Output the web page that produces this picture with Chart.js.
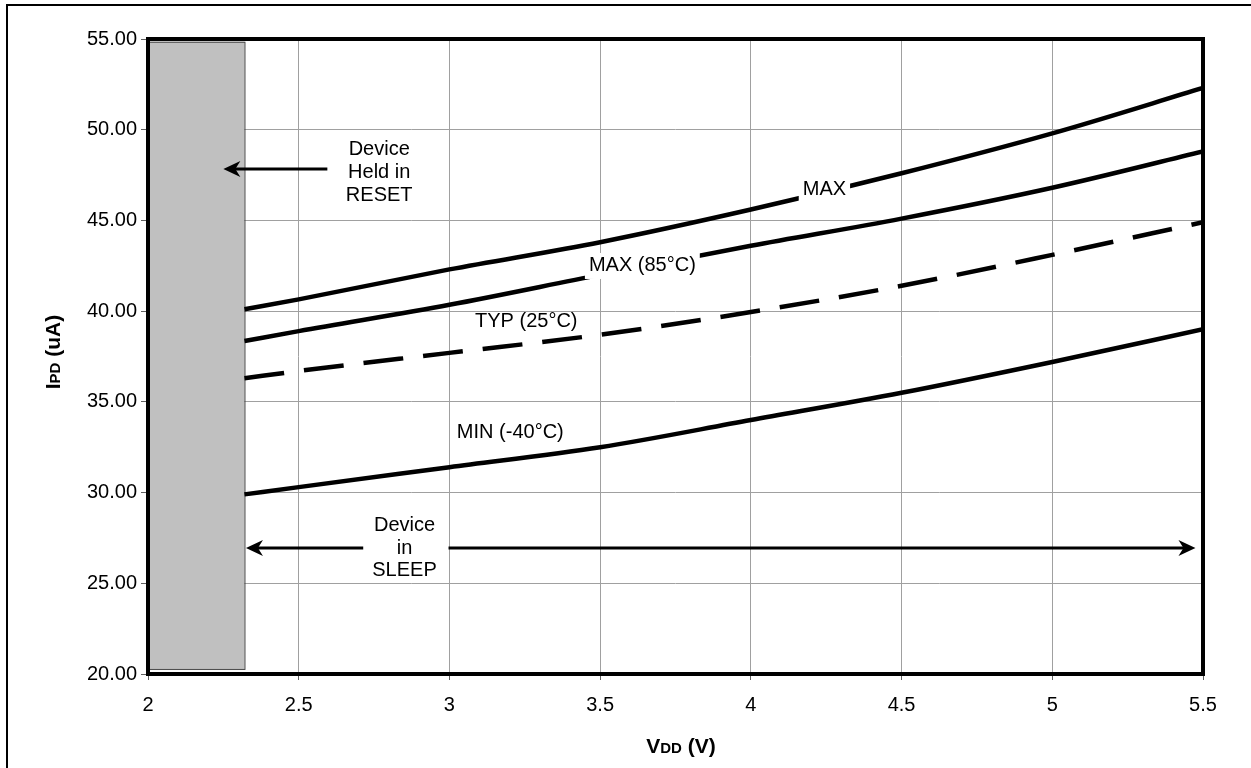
<!DOCTYPE html>
<html>
<head>
<meta charset="utf-8">
<script src="https://cdn.jsdelivr.net/npm/chart.js@4.4.1/dist/chart.umd.min.js"></script>
<style>
  html, body { margin: 0; padding: 0; background: #fff; }
  canvas { display: block; }
</style>
</head>
<body>
<canvas id="c" width="1251" height="768"></canvas>
<script>
// ---- data ----
const vdd     = [2.32, 2.5, 3.0, 3.5, 4.0, 4.5, 5.0, 5.5];
const maxAll  = [40.1, 40.65, 42.3, 43.8, 45.6, 47.6, 49.8, 52.3];
const max85   = [38.35, 38.9, 40.35, 42.0, 43.6, 45.1, 46.8, 48.8];
const typ25   = [36.3, 36.7, 37.7, 38.7, 39.95, 41.4, 43.1, 44.9];
const min40   = [29.9, 30.3, 31.4, 32.5, 34.0, 35.5, 37.2, 39.0];
const seriesNames = ['MAX', 'MAX (85°C)', 'TYP (25°C)', 'MIN (-40°C)'];
const xTickValues = [2, 2.5, 3, 3.5, 4, 4.5, 5, 5.5];
const yTickValues = [20, 25, 30, 35, 40, 45, 50, 55];
const resetVdd = [2.0, 2.32];
const resetI   = [20.28, 54.85];

const FONT = "'Liberation Sans', Arial, sans-serif";

function pts(ys) { return vdd.map((x, i) => ({ x: x, y: ys[i] })); }

// annotation layout (positions in data units)
const curveLabels = [
  { text: seriesNames[0], x: 4.244, y: 46.73, box: true },
  { text: seriesNames[1], x: 3.64,  y: 42.49, box: true },
  { text: seriesNames[2], x: 3.255, y: 39.45, box: false },
  { text: seriesNames[3], x: 3.202, y: 33.33, box: false }
];

function arrowHead(ctx, x, y, dir) {
  ctx.beginPath();
  ctx.moveTo(x, y);
  ctx.lineTo(x - dir * 17, y - 8);
  ctx.lineTo(x - dir * 12, y);
  ctx.lineTo(x - dir * 17, y + 8);
  ctx.closePath();
  ctx.fill();
}

const decor = {
  id: 'decor',
  beforeDatasetsDraw(chart) {
    const { ctx, scales: { x, y } } = chart;
    const x0 = x.getPixelForValue(resetVdd[0]), x1 = x.getPixelForValue(resetVdd[1]);
    const y0 = y.getPixelForValue(resetI[1]), y1 = y.getPixelForValue(resetI[0]);
    ctx.save();
    ctx.fillStyle = '#c0c0c0';
    ctx.fillRect(x0, y0, x1 - x0, y1 - y0);
    ctx.strokeStyle = '#404040';
    ctx.lineWidth = 1;
    ctx.strokeRect(x0 + 0.5, y0 + 0.5, x1 - x0, y1 - y0);
    ctx.restore();
  },
  afterDatasetsDraw(chart) {
    const { ctx, chartArea: a, scales: { x, y } } = chart;
    ctx.save();
    ctx.strokeStyle = '#000';
    ctx.lineWidth = 4;
    ctx.strokeRect(a.left, a.top, a.right - a.left, a.bottom - a.top);

    ctx.lineWidth = 2;
    ctx.strokeRect(7, 5, 1300, 900);

    ctx.fillStyle = '#000';
    ctx.font = '20px ' + FONT;
    ctx.textAlign = 'center';
    ctx.textBaseline = 'middle';

    curveLabels.forEach(l => {
      const px = x.getPixelForValue(l.x), py = y.getPixelForValue(l.y);
      if (l.box) {
        const w = ctx.measureText(l.text).width + 8;
        ctx.fillStyle = '#fff';
        ctx.fillRect(px - w / 2, py - 13, w, 26);
        ctx.fillStyle = '#000';
      }
      ctx.fillText(l.text, px, py);
    });

    const rx = x.getPixelForValue(2.767), ry = y.getPixelForValue(47.67);
    ctx.fillText('Device', rx, ry - 23);
    ctx.fillText('Held in', rx, ry);
    ctx.fillText('RESET', rx, ry + 23);
    const ay = y.getPixelForValue(47.83);
    ctx.lineWidth = 3;
    ctx.beginPath();
    ctx.moveTo(x.getPixelForValue(2.595), ay);
    ctx.lineTo(x.getPixelForValue(2.25) + 10, ay);
    ctx.stroke();
    arrowHead(ctx, x.getPixelForValue(2.25), ay, -1);

    const sx = x.getPixelForValue(2.851), sy = y.getPixelForValue(26.94);
    ctx.fillText('Device', sx, sy - 23);
    ctx.fillText('in', sx, sy);
    ctx.fillText('SLEEP', sx, sy + 22);
    ctx.beginPath();
    ctx.moveTo(x.getPixelForValue(2.325) + 10, sy);
    ctx.lineTo(x.getPixelForValue(2.714), sy);
    ctx.moveTo(x.getPixelForValue(2.997), sy);
    ctx.lineTo(x.getPixelForValue(5.475) - 10, sy);
    ctx.stroke();
    arrowHead(ctx, x.getPixelForValue(2.325), sy, -1);
    arrowHead(ctx, x.getPixelForValue(5.475), sy, 1);

    function drawParts(parts, cx, cy) {
      let total = 0;
      parts.forEach(p => { ctx.font = p.f; total += ctx.measureText(p.t).width; });
      let cur = cx - total / 2;
      ctx.textAlign = 'left';
      ctx.textBaseline = 'alphabetic';
      parts.forEach(p => { ctx.font = p.f; ctx.fillText(p.t, cur, cy); cur += ctx.measureText(p.t).width; });
    }
    const big = 'bold 21px ' + FONT, small = 'bold 15px ' + FONT;
    drawParts([{ t: 'V', f: big }, { t: 'DD', f: small }, { t: ' (V)', f: big }], 681, 753);
    ctx.save();
    ctx.translate(60, 352);
    ctx.rotate(-Math.PI / 2);
    drawParts([{ t: 'I', f: big }, { t: 'PD', f: small }, { t: ' (uA)', f: big }], 0, 0);
    ctx.restore();
    ctx.restore();
  }
};

const lineStyle = { borderColor: '#000', borderWidth: 4.5, pointRadius: 0, fill: false,
                    cubicInterpolationMode: 'monotone' };

new Chart(document.getElementById('c'), {
  type: 'line',
  data: {
    datasets: [
      Object.assign({ label: seriesNames[0], data: pts(maxAll) }, lineStyle),
      Object.assign({ label: seriesNames[1], data: pts(max85) }, lineStyle),
      Object.assign({ label: seriesNames[2], data: pts(typ25), borderDash: [40, 20] }, lineStyle),
      Object.assign({ label: seriesNames[3], data: pts(min40) }, lineStyle)
    ]
  },
  options: {
    responsive: false,
    devicePixelRatio: 1,
    animation: false,
    layout: { padding: { top: 39, right: 48, left: 0, bottom: 0 } },
    plugins: { legend: { display: false }, tooltip: { enabled: false }, title: { display: false } },
    scales: {
      x: {
        type: 'linear', min: 2, max: 5.5,
        afterFit(s) { s.height = 94; },
        afterBuildTicks(s) { s.ticks = xTickValues.map(v => ({ value: v })); },
        ticks: { color: '#000', font: { family: FONT, size: 20 }, padding: 13,
                 maxRotation: 0, callback: v => String(v) },
        grid: { color: '#a0a0a0', lineWidth: 1, tickLength: 6, tickColor: '#606060' },
        border: { display: false }
      },
      y: {
        type: 'linear', min: 20, max: 55,
        afterFit(s) { s.width = 148; },
        afterBuildTicks(s) { s.ticks = yTickValues.map(v => ({ value: v })); },
        ticks: { color: '#000', font: { family: FONT, size: 20 }, padding: 4,
                 callback: v => Number(v).toFixed(2) },
        grid: { color: '#a0a0a0', lineWidth: 1, tickLength: 7, tickColor: '#606060' },
        border: { display: false }
      }
    }
  },
  plugins: [decor]
});
</script>
</body>
</html>
